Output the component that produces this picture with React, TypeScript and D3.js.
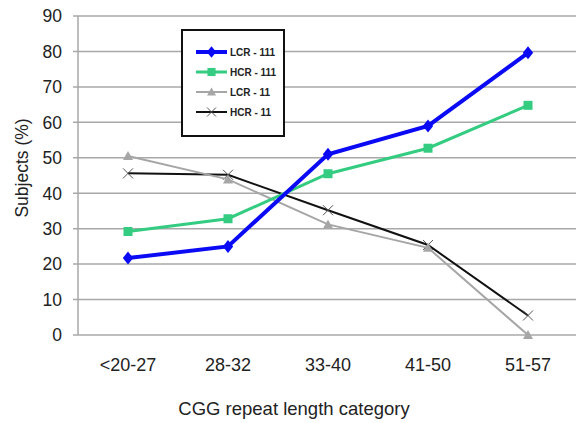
import { useEffect, useRef } from "react";
import * as d3 from "d3";

const categories = ["<20-27", "28-32", "33-40", "41-50", "51-57"];
const lcr111 = [21.7, 25, 51, 59, 79.6];
const hcr111 = [29.2, 32.8, 45.5, 52.7, 64.8];
const lcr11 = [50.5, 43.9, 31.2, 24.6, 0];
const hcr11 = [45.6, 45.2, 35.2, 25.4, 5.5];
const yTicks = [0, 10, 20, 30, 40, 50, 60, 70, 80, 90];

const series = [
  { name: "LCR - 111", values: lcr111, color: "#0a0af5", width: 4, marker: "diamond" },
  { name: "HCR - 111", values: hcr111, color: "#33cc80", width: 3, marker: "square" },
  { name: "LCR - 11", values: lcr11, color: "#a6a6a6", width: 2, marker: "triangle" },
  { name: "HCR - 11", values: hcr11, color: "#111111", width: 2, marker: "x" },
];

const W = 576;
const H = 423;
const M = { left: 78, top: 16, right: 0, bottom: 88 };

export default function App() {
  const ref = useRef<SVGSVGElement>(null);

  useEffect(() => {
    const svg = d3.select(ref.current);
    svg.selectAll("*").remove();

    const x = d3.scaleBand().domain(categories).range([M.left, M.left + 500]);
    const y = d3.scaleLinear().domain([0, 90]).range([H - M.bottom, M.top]);

    // grid
    svg
      .append("g")
      .selectAll("line")
      .data(yTicks)
      .join("line")
      .attr("x1", M.left - 5)
      .attr("x2", W)
      .attr("y1", (d) => y(d))
      .attr("y2", (d) => y(d))
      .attr("stroke", "#a8a8a8")
      .attr("stroke-width", 1.5);

    svg
      .append("line")
      .attr("x1", M.left)
      .attr("x2", M.left)
      .attr("y1", y(90))
      .attr("y2", y(0))
      .attr("stroke", "#a8a8a8")
      .attr("stroke-width", 1.5);

    // y tick labels
    svg
      .append("g")
      .selectAll("text")
      .data(yTicks)
      .join("text")
      .attr("x", 62)
      .attr("y", (d) => y(d))
      .attr("dy", "0.36em")
      .attr("text-anchor", "end")
      .attr("font-size", 17.5)
      .attr("fill", "#222")
      .text((d) => d);

    // x tick labels
    svg
      .append("g")
      .selectAll("text")
      .data(categories)
      .join("text")
      .attr("x", (d) => x(d)! + x.bandwidth() / 2)
      .attr("y", 371)
      .attr("text-anchor", "middle")
      .attr("font-size", 18)
      .attr("fill", "#222")
      .text((d) => d);

    svg
      .append("text")
      .attr("x", 294)
      .attr("y", 415)
      .attr("text-anchor", "middle")
      .attr("font-size", 18.5)
      .attr("fill", "#222")
      .text("CGG repeat length category");

    svg
      .append("text")
      .attr("transform", `translate(28,168) rotate(-90)`)
      .attr("text-anchor", "middle")
      .attr("font-size", 17.5)
      .attr("fill", "#222")
      .text("Subjects (%)");

    const line = d3
      .line<number>()
      .x((_, i) => x(categories[i])! + x.bandwidth() / 2)
      .y((d) => y(d));

    const drawMarker = (g: any, type: string, color: string, cx: number, cy: number, big = 1) => {
      if (type === "diamond") {
        const s = 6.5 * big;
        g.append("path")
          .attr("d", `M${cx},${cy - s}L${cx + s * 0.8},${cy}L${cx},${cy + s}L${cx - s * 0.8},${cy}Z`)
          .attr("fill", color);
      } else if (type === "square") {
        const s = 4.5 * big;
        g.append("rect")
          .attr("x", cx - s)
          .attr("y", cy - s)
          .attr("width", 2 * s)
          .attr("height", 2 * s)
          .attr("fill", color);
      } else if (type === "triangle") {
        const s = 5 * big;
        g.append("path")
          .attr("d", `M${cx},${cy - s}L${cx + s},${cy + s * 0.8}L${cx - s},${cy + s * 0.8}Z`)
          .attr("fill", color);
      } else {
        const s = 5 * big;
        g.append("path")
          .attr("d", `M${cx - s},${cy - s}L${cx + s},${cy + s}M${cx - s},${cy + s}L${cx + s},${cy - s}`)
          .attr("stroke", "#555")
          .attr("stroke-width", 1);
      }
    };

    // draw in reverse so blue on top
    [...series].reverse().forEach((s) => {
      const g = svg.append("g");
      g.append("path")
        .attr("d", line(s.values))
        .attr("fill", "none")
        .attr("stroke", s.color)
        .attr("stroke-width", s.width);
      s.values.forEach((v, i) => {
        drawMarker(g, s.marker, s.color, x(categories[i])! + x.bandwidth() / 2, y(v));
      });
    });

    // legend
    const lg = svg.append("g");
    lg.append("rect")
      .attr("x", 182)
      .attr("y", 30)
      .attr("width", 102)
      .attr("height", 106)
      .attr("fill", "white")
      .attr("stroke", "#111")
      .attr("stroke-width", 2);
    series.forEach((s, i) => {
      const ly = 52 + i * 20;
      lg.append("line")
        .attr("x1", 196)
        .attr("x2", 227)
        .attr("y1", ly)
        .attr("y2", ly)
        .attr("stroke", s.color)
        .attr("stroke-width", s.width);
      drawMarker(lg, s.marker, s.color, 211.5, ly, 0.9);
      lg.append("text")
        .attr("x", 230)
        .attr("y", ly)
        .attr("dy", "0.35em")
        .attr("font-size", 10)
        .attr("font-weight", "bold")
        .attr("fill", "#222")
        .text(s.name);
    });
  }, []);

  return (
    <svg
      ref={ref}
      width={W}
      height={H}
      style={{ position: "absolute", left: 0, top: 0, fontFamily: "'Liberation Sans', Arial, sans-serif", background: "white" }}
    />
  );
}
